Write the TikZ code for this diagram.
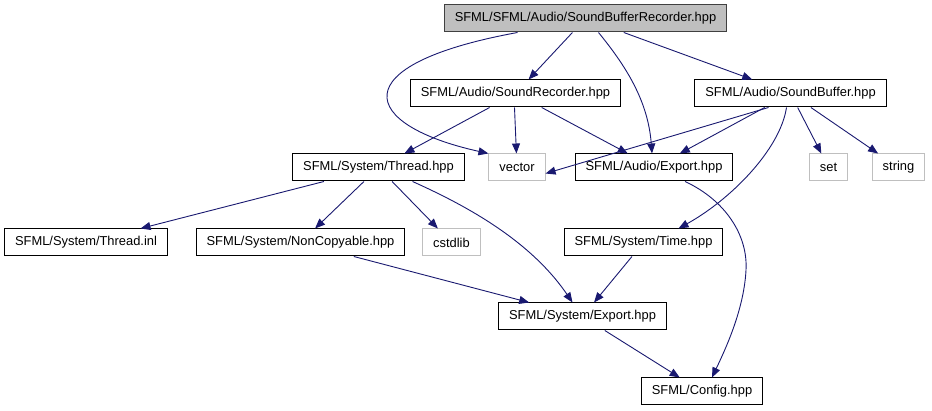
\documentclass[tikz,border=0pt]{standalone}
\usepackage{fontspec}
\setmainfont{Liberation Sans}
\usepackage{tikz}
\usetikzlibrary{arrows.meta}

\definecolor{edgeblue}{RGB}{25,25,112}
\definecolor{boxgray}{RGB}{191,191,191}

\begin{document}
\begin{tikzpicture}[
  x=1pt, y=-1pt,
  every node/.style = {font=\fontsize{12.9}{15}\selectfont},
  header/.style = {
    rectangle, draw=black!75, fill=boxgray, line width=1pt,
    minimum height=27pt, inner xsep=10.5pt
  },
  file/.style = {
    rectangle, draw=black, fill=white, line width=1pt,
    minimum height=27pt, inner xsep=10.5pt
  },
  sysfile/.style = {
    rectangle, draw=boxgray, fill=white, line width=1pt,
    minimum height=27pt, inner xsep=10.5pt
  },
  arr/.style = {-{Triangle[length=10pt,width=8pt]}, line width=0.9pt, edgeblue}
]
\useasboundingbox (0,0) rectangle (932,411);

% Nodes
\node[header] (root) at (585.5,18.5) {SFML/SFML/Audio/SoundBufferRecorder.hpp};
\node[file] (rec) at (515.5,93.5) {SFML/Audio/SoundRecorder.hpp};
\node[file] (sbuf) at (790.5,93.5) {SFML/Audio/SoundBuffer.hpp};

\node[file] (thread) at (378.5,167.5) {SFML/System/Thread.hpp};
\node[sysfile] (vector) at (517,167.5) {vector};
\node[file] (aexport) at (654,167.5) {SFML/Audio/Export.hpp};
\node[sysfile] (set) at (828.5,167.5) {set};
\node[sysfile] (string) at (898.5,167.5) {string};

\node[file] (inl) at (86,242.5) {SFML/System/Thread.inl};
\node[file] (noncopy) at (300.5,242.5) {SFML/System/NonCopyable.hpp};
\node[sysfile] (cstdlib) at (451.5,242.5) {cstdlib};
\node[file] (time) at (643.5,242.5) {SFML/System/Time.hpp};

\node[file] (sexport) at (582.5,316.5) {SFML/System/Export.hpp};
\node[file] (config) at (702,391.5) {SFML/Config.hpp};

% Arrows from the recorder header
\draw[arr] (root) -- (rec);
\draw[arr] (root) -- (sbuf);
\draw[arr] ([xshift=-68pt]root.south) .. controls (340,65) and (360,125) .. (vector.north west);
\draw[arr] ([xshift=13pt]root.south) .. controls (625,65) and (648,100) .. ([xshift=-2pt]aexport.north);

% SoundRecorder.hpp
\draw[arr] (rec) -- (thread);
\draw[arr] ([xshift=-1pt]rec.south) -- (vector);
\draw[arr] (rec) -- (aexport);

% SoundBuffer.hpp
\draw[arr] ([xshift=-22pt]sbuf.south) -- ([yshift=-6pt]vector.east);
\draw[arr] (sbuf) -- (aexport);
\draw[arr] ([xshift=-4pt]sbuf.south) .. controls (780,150) and (730,200) .. ([xshift=35pt]time.north);
\draw[arr] (sbuf) -- (set);
\draw[arr] (sbuf) -- (string);

% Thread.hpp
\draw[arr] (thread) -- (inl);
\draw[arr] (thread) -- (noncopy);
\draw[arr] (thread) -- (cstdlib);
\draw[arr] ([xshift=34pt]thread.south) .. controls (465,205) and (530,240) .. ([xshift=-10pt]sexport.north);

% down to Config.hpp
\draw[arr] ([xshift=31pt]aexport.south) .. controls (725,200) and (748,235) .. (746,270)
  .. controls (744,310) and (725,350) .. ([xshift=10pt]config.north);
\draw[arr] (noncopy) -- (sexport);
\draw[arr] (time) -- (sexport);
\draw[arr] (sexport) -- (config);

\end{tikzpicture}
\end{document}
